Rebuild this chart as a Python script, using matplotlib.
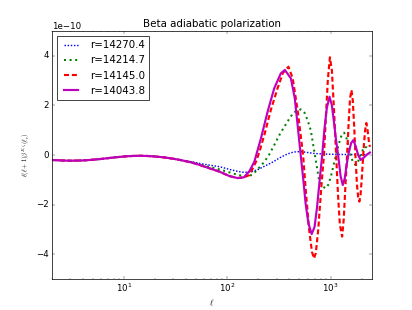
import numpy as np
import matplotlib
matplotlib.use("Agg")
import matplotlib.pyplot as plt

plt.style.use('classic')

# shared low-ell part (all four curves overlap here)
ell_low = [2, 2.5, 3, 4, 5, 6, 8, 10, 12, 14, 17, 20, 25, 30, 35]
v_low = [-0.20, -0.22, -0.23, -0.22, -0.19, -0.16, -0.10, -0.06, -0.04, -0.03,
         -0.04, -0.06, -0.10, -0.15, -0.20]

# r=14270.4
ell_a = [45, 54, 70, 84, 105, 126, 145, 170, 200, 230, 260, 285, 320, 360, 400,
         440, 514, 600, 700, 850, 1000, 1300, 1700, 2000, 2400]
v_a = [-0.27, -0.34, -0.42, -0.47, -0.58, -0.66, -0.70, -0.68, -0.58, -0.45,
       -0.34, -0.25, -0.12, -0.01, 0.07, 0.12, 0.14, 0.10, 0.06, 0.04, 0.03,
       0.02, 0.02, 0.01, 0.03]

# r=14214.7
ell_b = [45, 54, 70, 84, 105, 126, 145, 164, 183, 205, 229, 255, 285, 319, 357,
         397, 440, 514, 560, 600, 643, 705, 773, 840, 900, 950, 1010, 1070, 1130,
         1200, 1280, 1352, 1420, 1500, 1580, 1660, 1738, 1830, 1950, 2050, 2138,
         2250, 2400]
v_b = [-0.29, -0.38, -0.50, -0.58, -0.70, -0.80, -0.85, -0.86, -0.72, -0.50,
       -0.27, 0.02, 0.40, 0.80, 1.14, 1.45, 1.72, 1.84, 1.70, 1.40, 1.00, 0.00,
       -1.00, -1.28, -1.34, -1.20, -0.85, -0.40, 0.00, 0.45, 0.80, 0.90, 0.70,
       0.30, -0.10, -0.30, -0.40, -0.30, 0.00, 0.20, 0.33, 0.30, 0.20]

# r=14145.0
ell_c = [45, 54, 70, 84, 105, 126, 145, 164, 190, 205, 230, 264, 307, 345, 391,
         430, 480, 542, 580, 620, 660, 691, 720, 760, 810, 863, 900, 940, 985,
         1030, 1080, 1132, 1180, 1230, 1294, 1340, 1390, 1445, 1500, 1545, 1593,
         1640, 1690, 1740, 1800, 1850, 1900, 1950, 2000, 2100, 2160, 2218, 2280,
         2340, 2400]
v_c = [-0.30, -0.40, -0.56, -0.67, -0.85, -0.93, -0.90, -0.81, -0.27, 0.13,
       0.85, 1.81, 2.69, 3.30, 3.56, 3.10, 1.80, 0.00, -1.60, -3.00, -3.90,
       -4.17, -3.95, -3.00, -1.40, 0.00, 1.50, 3.00, 3.94, 3.40, 1.80, 0.00,
       -1.60, -2.80, -3.29, -2.60, -1.30, 0.00, 1.40, 2.30, 2.62, 2.20, 1.20,
       0.00, -1.20, -1.70, -1.88, -1.60, -1.00, 0.40, 1.00, 1.29, 1.00, 0.60,
       0.33]

# r=14043.8
ell_d = [45, 54, 70, 84, 105, 126, 145, 164, 183, 212, 246, 285, 330, 361, 413,
         450, 480, 514, 545, 575, 610, 656, 700, 740, 785, 830, 870, 920, 977,
         1030, 1080, 1130, 1183, 1250, 1312, 1370, 1430, 1500, 1580, 1663, 1750,
         1850, 1955, 2100, 2250, 2400]
v_d = [-0.30, -0.40, -0.56, -0.67, -0.85, -0.93, -0.90, -0.65, -0.27, 0.67,
       1.75, 2.69, 3.29, 3.43, 3.09, 2.30, 1.20, 0.00, -1.00, -2.00, -2.75,
       -3.19, -2.90, -2.10, -1.00, 0.00, 1.00, 1.90, 2.35, 2.00, 1.30, 0.60,
       0.00, -0.85, -1.21, -0.95, -0.40, 0.10, 0.48, 0.60, 0.35, 0.00, -0.20,
       -0.10, 0.02, 0.10]

labels = ['r=14270.4', 'r=14214.7', 'r=14145.0', 'r=14043.8']

fig = plt.figure(figsize=(413/51.6, 310/51.6), dpi=51.6)
ax = fig.add_subplot(111)

scale = 1e-10
# classic style does not scale dashes with linewidth, so patterns are in points
ax.plot(ell_low + ell_a, np.array(v_low + v_a) * scale, color='b',
        ls=(0, (2, 2.4)), lw=2, label=labels[0])
ax.plot(ell_low + ell_b, np.array(v_low + v_b) * scale, color='g',
        ls=(0, (2.8, 5)), lw=2.8, label=labels[1])
ax.plot(ell_low + ell_c, np.array(v_low + v_c) * scale, color='r',
        ls=(0, (7, 4)), lw=3, label=labels[2])
ax.plot(ell_low + ell_d, np.array(v_low + v_d) * scale, 'm-', lw=3, label=labels[3])

ax.set_xscale('log')
ax.set_xlim(2, 2500)
ax.set_ylim(-5e-10, 5e-10)
ax.set_yticks([-4e-10, -2e-10, 0, 2e-10, 4e-10])

ax.set_title('Beta adiabatic polarization', fontsize=14.4)
ax.set_xlabel(r'$\ell$', fontsize=12)
ax.set_ylabel(r'$\ell(\ell+1)\beta^{E,\zeta}(\ell_r)$', fontsize=9)
ax.legend(loc='upper left', fontsize=14.4)

fig.savefig('out.png', dpi=51.6, facecolor='white')
